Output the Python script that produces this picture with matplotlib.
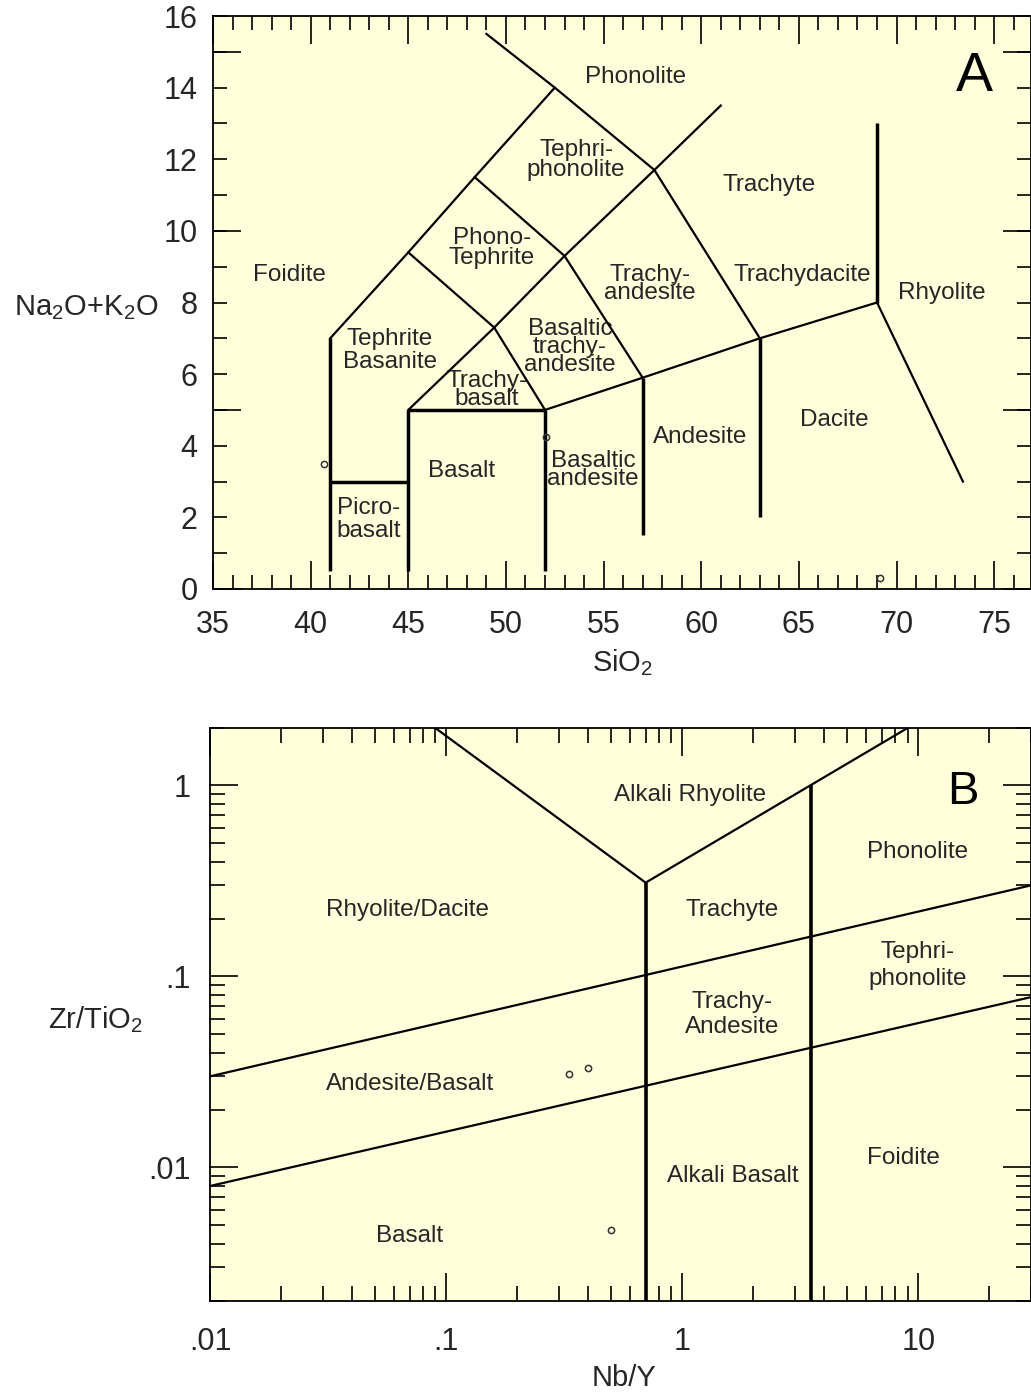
import matplotlib
matplotlib.use('Agg')
import matplotlib.pyplot as plt
from matplotlib.ticker import FixedLocator, MultipleLocator, NullFormatter, FuncFormatter, LogLocator

plt.rcParams['font.family'] = ['Liberation Sans', 'DejaVu Sans']
plt.rcParams['mathtext.fontset'] = 'custom'
plt.rcParams['mathtext.rm'] = 'Liberation Sans'
plt.rcParams['mathtext.default'] = 'regular'

# ---- panel A: TAS diagram (SiO2 vs Na2O+K2O) ----
tas_thick = [
    [(41, 0.5), (41, 7)],
    [(41, 3), (45, 3)],
    [(45, 0.5), (45, 5)],
    [(45, 5), (52, 5)],
    [(52, 0.5), (52, 5)],
    [(57, 1.5), (57, 5.9)],
    [(63, 2), (63, 7)],
    [(69, 8), (69, 13)],
]
tas_thin = [
    [(41, 7), (45, 9.4), (48.4, 11.5), (52.5, 14), (49, 15.5)],
    [(45, 5), (49.4, 7.3), (53, 9.3), (57.6, 11.7), (61, 13.5)],
    [(52.5, 14), (57.6, 11.7)],
    [(45, 9.4), (49.4, 7.3), (52, 5)],
    [(48.4, 11.5), (53, 9.3), (57, 5.9)],
    [(57.6, 11.7), (63, 7)],
    [(52, 5), (57, 5.9), (63, 7), (69, 8)],
    [(69, 8), (73.4, 3)],
]
tas_labels = [
    ("Phonolite", 56.66, 14.30, 1.0),
    ("Tephri-\nphonolite", 53.59, 11.98, 0.85),
    ("Trachyte", 63.47, 11.28, 1.0),
    ("Foidite", 38.90, 8.77, 1.0),
    ("Phono-\nTephrite", 49.29, 9.52, 0.85),
    ("Trachy-\nandesite", 57.38, 8.52, 0.78),
    ("Trachydacite", 65.18, 8.77, 1.0),
    ("Rhyolite", 72.33, 8.27, 1.0),
    ("Tephrite\nBasanite", 44.06, 6.65, 1.05),
    ("Basaltic\ntrachy-\nandesite", 53.28, 6.76, 0.78),
    ("Trachy-\nbasalt", 49.03, 5.56, 0.78),
    ("Dacite", 66.80, 4.72, 1.0),
    ("Andesite", 59.94, 4.24, 1.0),
    ("Basalt", 47.75, 3.30, 1.0),
    ("Basaltic\nandesite", 54.46, 3.32, 0.78),
    ("Picro-\nbasalt", 42.99, 1.93, 1.05),
]
sio2 = [40.7, 52.05, 69.15]
alkali = [3.5, 4.25, 0.3]
tas_xticks = [35, 40, 45, 50, 55, 60, 65, 70, 75]

# ---- panel B: Zr/TiO2 vs Nb/Y ----
wf_thick = [
    [(0.7, 0.002), (0.7, 0.31)],
    [(3.5, 0.002), (3.5, 1.0)],
]
wf_thin = [
    [(0.09, 2.0), (0.7, 0.31), (9.0, 2.0)],
    [(0.01, 0.030), (30, 0.30)],
    [(0.01, 0.008), (30, 0.078)],
]
wf_labels = [
    ("Alkali Rhyolite", 1.08, 0.897, 1.0),
    ("Phonolite", 9.9, 0.446, 1.0),
    ("Rhyolite/Dacite", 0.0684, 0.222, 1.0),
    ("Trachyte", 1.62, 0.222, 1.0),
    ("Tephri-\nphonolite", 9.9, 0.114, 1.3),
    ("Trachy-\nAndesite", 1.62, 0.0633, 1.15),
    ("Andesite/Basalt", 0.0703, 0.0272, 1.0),
    ("Alkali Basalt", 1.63, 0.00908, 1.0),
    ("Foidite", 8.63, 0.01128, 1.0),
    ("Basalt", 0.0703, 0.0044, 1.0),
]
nb_y = [0.33, 0.40, 0.50]
zr_ti = [0.031, 0.033, 0.0047]
wf_xticks = [0.01, 0.1, 1, 10]
wf_xticklabels = ['.01', '.1', '1', '10']
wf_yticks = [0.01, 0.1, 1]
wf_yticklabels = ['.01', '.1', '1']

bg = '#FFFFDC'
txt = '#262626'

fig = plt.figure(figsize=(10.31, 13.93), dpi=100)

# ================= A =================
axA = fig.add_axes([213 / 1031, 1 - 589 / 1393, 1 - 213 / 1031, 573 / 1393])
axA.set_facecolor(bg)
for seg in tas_thick:
    xs, ys = zip(*seg)
    axA.plot(xs, ys, color='black', lw=2.5, solid_capstyle='butt', zorder=3)
for seg in tas_thin:
    xs, ys = zip(*seg)
    axA.plot(xs, ys, color='black', lw=1.6, zorder=3)
for name, x, y, ls in tas_labels:
    axA.text(x, y, name, ha='center', va='center', fontsize=17.5,
             color=txt, linespacing=ls, zorder=2)
axA.plot(sio2, alkali, 'o', mfc='none', mec='#333333', ms=4.5, mew=1.1, zorder=4)
axA.text(74.0, 14.30, 'A', fontsize=40, ha='center', va='center', color='black')

axA.set_xlim(35, 35 + 818 / 19.53)
axA.set_ylim(0, 16)
axA.set_xticks(tas_xticks)
axA.set_xticklabels([str(v) for v in tas_xticks])
axA.xaxis.set_minor_locator(MultipleLocator(1))
axA.yaxis.set_major_locator(FixedLocator([0, 5, 10, 15]))
axA.yaxis.set_major_formatter(NullFormatter())
axA.yaxis.set_minor_locator(MultipleLocator(1))
axA.yaxis.set_minor_formatter(FuncFormatter(lambda v, p: '%d' % v if round(v) % 2 == 0 else ''))
axA.yaxis.remove_overlapping_locs = False
axA.tick_params(which='both', direction='in', top=True, right=True, width=1.2, colors='black')
axA.tick_params(which='major', length=20)
axA.tick_params(which='minor', length=10)
axA.tick_params(axis='x', which='major', labelsize=22, pad=15, labelcolor=txt)
axA.tick_params(axis='y', which='minor', labelsize=22, pad=11, labelcolor=txt)
for sp in axA.spines.values():
    sp.set_linewidth(1.3)

fig.text(623 / 1031, 1 - 663 / 1393, 'SiO$_2$', fontsize=21, ha='center', va='center', color=txt)
fig.text(86 / 1031, 1 - 308 / 1393, 'Na$_2$O+K$_2$O', fontsize=21, ha='center', va='center', color=txt)

# ================= B =================
axB = fig.add_axes([210 / 1031, 1 - 1301 / 1393, 1 - 210 / 1031, 573 / 1393])
axB.set_facecolor(bg)
axB.set_xscale('log')
axB.set_yscale('log')
for seg in wf_thick:
    xs, ys = zip(*seg)
    axB.plot(xs, ys, color='black', lw=2.6, solid_capstyle='butt', zorder=3)
for seg in wf_thin:
    xs, ys = zip(*seg)
    axB.plot(xs, ys, color='black', lw=1.6, zorder=3)
for name, x, y, ls in wf_labels:
    axB.text(x, y, name, ha='center', va='center', fontsize=17.5,
             color=txt, linespacing=ls, zorder=2)
axB.plot(nb_y, zr_ti, 'o', mfc='none', mec='#333333', ms=4.5, mew=1.1, zorder=4)
axB.text(15.5, 0.92, 'B', fontsize=34, ha='center', va='center', color='black')

axB.set_xlim(0.01, 30)
axB.set_ylim(0.002, 2)
axB.set_xticks(wf_xticks)
axB.set_xticklabels(wf_xticklabels)
axB.set_yticks(wf_yticks)
axB.set_yticklabels(wf_yticklabels)
axB.xaxis.set_minor_locator(LogLocator(base=10, subs=range(2, 10)))
axB.yaxis.set_minor_locator(LogLocator(base=10, subs=range(2, 10)))
axB.xaxis.set_minor_formatter(NullFormatter())
axB.yaxis.set_minor_formatter(NullFormatter())
axB.tick_params(which='both', direction='in', top=True, right=True, width=1.2, colors='black')
axB.tick_params(which='major', length=20)
axB.tick_params(which='minor', length=11)
axB.tick_params(axis='x', which='major', labelsize=22, pad=19, labelcolor=txt)
axB.tick_params(axis='y', which='major', labelsize=22, pad=14, labelcolor=txt)
for sp in axB.spines.values():
    sp.set_linewidth(1.3)

fig.text(96 / 1031, 1 - 1020 / 1393, 'Zr/TiO$_2$', fontsize=21, ha='center', va='center', color=txt)
fig.text(624 / 1031, 1 - 1378 / 1393, 'Nb/Y', fontsize=21, ha='center', va='center', color=txt)

fig.savefig('out.png', dpi=100, facecolor='white')
